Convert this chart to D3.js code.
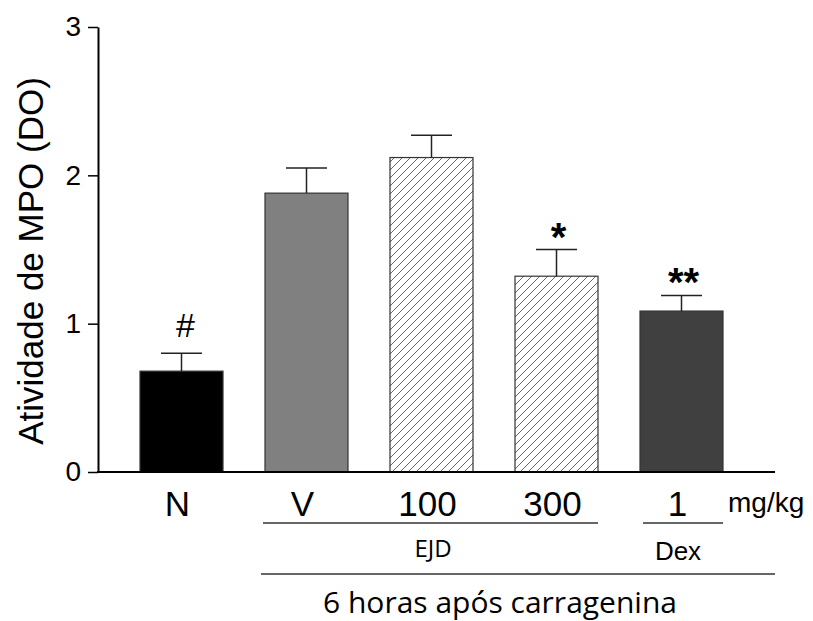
<!DOCTYPE html>
<html><head><meta charset="utf-8">
<script src="https://cdn.jsdelivr.net/npm/d3@7"></script>
<style>body{margin:0;background:#fff}</style>
</head><body>
<script>
const categories = ["N","V","100","300","1"];
const values = [0.68, 1.88, 2.12, 1.32, 1.085];
const errors = [0.12, 0.17, 0.15, 0.18, 0.105];
const marks = ["#", "", "", "*", "**"];
const fills = ["#000000", "#808080", "hatch", "hatch", "#404040"];
const yTicks = [0, 1, 2, 3];

const SANS = "'Liberation Sans', Arial, sans-serif";
const CAL = "'Open Sans', 'Noto Sans', sans-serif";
const W = 813, H = 621;
const svg = d3.select("body").append("svg").attr("width", W).attr("height", H);

const defs = svg.append("defs");
const pat = defs.append("pattern").attr("id","hatch").attr("patternUnits","userSpaceOnUse")
  .attr("width",8).attr("height",8);
pat.append("rect").attr("width",8).attr("height",8).attr("fill","#fff");
pat.append("path").attr("d","M-2,2 L2,-2 M0,8 L8,0 M6,10 L10,6").attr("stroke","#555").attr("stroke-width",0.9);

const y = d3.scaleLinear().domain([0,3]).range([472,27]);
const x = d3.scaleBand().domain(categories).range([98,765]).paddingInner(0.336).paddingOuter(0.336);

// Y axis
const ya = svg.append("g").attr("transform","translate(98,0)")
  .call(d3.axisLeft(y).tickValues(yTicks).tickFormat(d3.format("d")).tickSize(10).tickSizeOuter(0).tickPadding(7));
ya.selectAll("text").attr("font-family",SANS).attr("font-size",28).attr("fill","#000");
ya.selectAll("line").attr("stroke","#000").attr("stroke-width",1.5);
ya.select(".domain").attr("stroke","#000").attr("stroke-width",2);

// bars
svg.selectAll("rect.bar").data(categories).join("rect").attr("class","bar")
  .attr("x", d => x(d)).attr("width", x.bandwidth())
  .attr("y", (d,i) => y(values[i])).attr("height", (d,i) => y(0) - y(values[i]))
  .attr("fill", (d,i) => fills[i] === "hatch" ? "url(#hatch)" : fills[i])
  .attr("stroke", "#333").attr("stroke-width", 1.2);

// error bars
const eg = svg.append("g").attr("stroke","#222").attr("stroke-width",1.5);
categories.forEach((c,i) => {
  const cx = x(c) + x.bandwidth()/2;
  const top = y(values[i]+errors[i]);
  eg.append("line").attr("x1",cx).attr("x2",cx).attr("y1",y(values[i])).attr("y2",top);
  eg.append("line").attr("x1",cx-20.5).attr("x2",cx+20.5).attr("y1",top).attr("y2",top);
  if (marks[i] === "#") {
    svg.append("text").attr("x",cx+4).attr("y", top-16)
      .attr("text-anchor","middle").attr("font-family",SANS).attr("font-size",34).text(marks[i]);
  } else if (marks[i]) {
    svg.append("text").attr("x",cx+2).attr("y", top+1)
      .attr("text-anchor","middle").attr("font-family",SANS).attr("font-weight","bold")
      .attr("font-size",40).text(marks[i]);
  }
});

// x baseline
svg.append("line").attr("x1",97).attr("x2",775).attr("y1",y(0)).attr("y2",y(0)).attr("stroke","#000").attr("stroke-width",2);

// category labels
svg.selectAll("text.cat").data(categories).join("text").attr("class","cat")
  .attr("x", d => x(d) + x.bandwidth()/2 - 4).attr("y", 516)
  .attr("text-anchor","middle").attr("font-family",SANS)
  .attr("font-size",35).attr("fill","#000").text(d => d);

svg.append("text").attr("x",728).attr("y",512).attr("font-family",SANS)
  .attr("font-size",28).text("mg/kg");

// group lines
const lineG = svg.append("g").attr("stroke","#333").attr("stroke-width",1.3);
lineG.append("line").attr("x1",x("V")-2).attr("x2",x("300")+x.bandwidth()).attr("y1",523).attr("y2",523);
lineG.append("line").attr("x1",x("1")+3).attr("x2",x("1")+x.bandwidth()).attr("y1",523).attr("y2",523);
lineG.append("line").attr("x1",x("V")-4).attr("x2",775).attr("y1",574).attr("y2",574);

svg.append("text").attr("x",433).attr("y",557).attr("text-anchor","middle")
  .attr("font-family",CAL).attr("font-size",24).text("EJD");
svg.append("text").attr("x",678).attr("y",560).attr("text-anchor","middle")
  .attr("font-family",SANS).attr("font-size",26).text("Dex");
svg.append("text").attr("x",500).attr("y",613).attr("text-anchor","middle")
  .attr("font-family",CAL).attr("font-size",30).text("6 horas após carragenina");

// y label
svg.append("text").attr("transform","translate(43,261) rotate(-90)").attr("text-anchor","middle")
  .attr("font-family",SANS).attr("font-size",35).text("Atividade de MPO (DO)");
</script>
</body></html>
